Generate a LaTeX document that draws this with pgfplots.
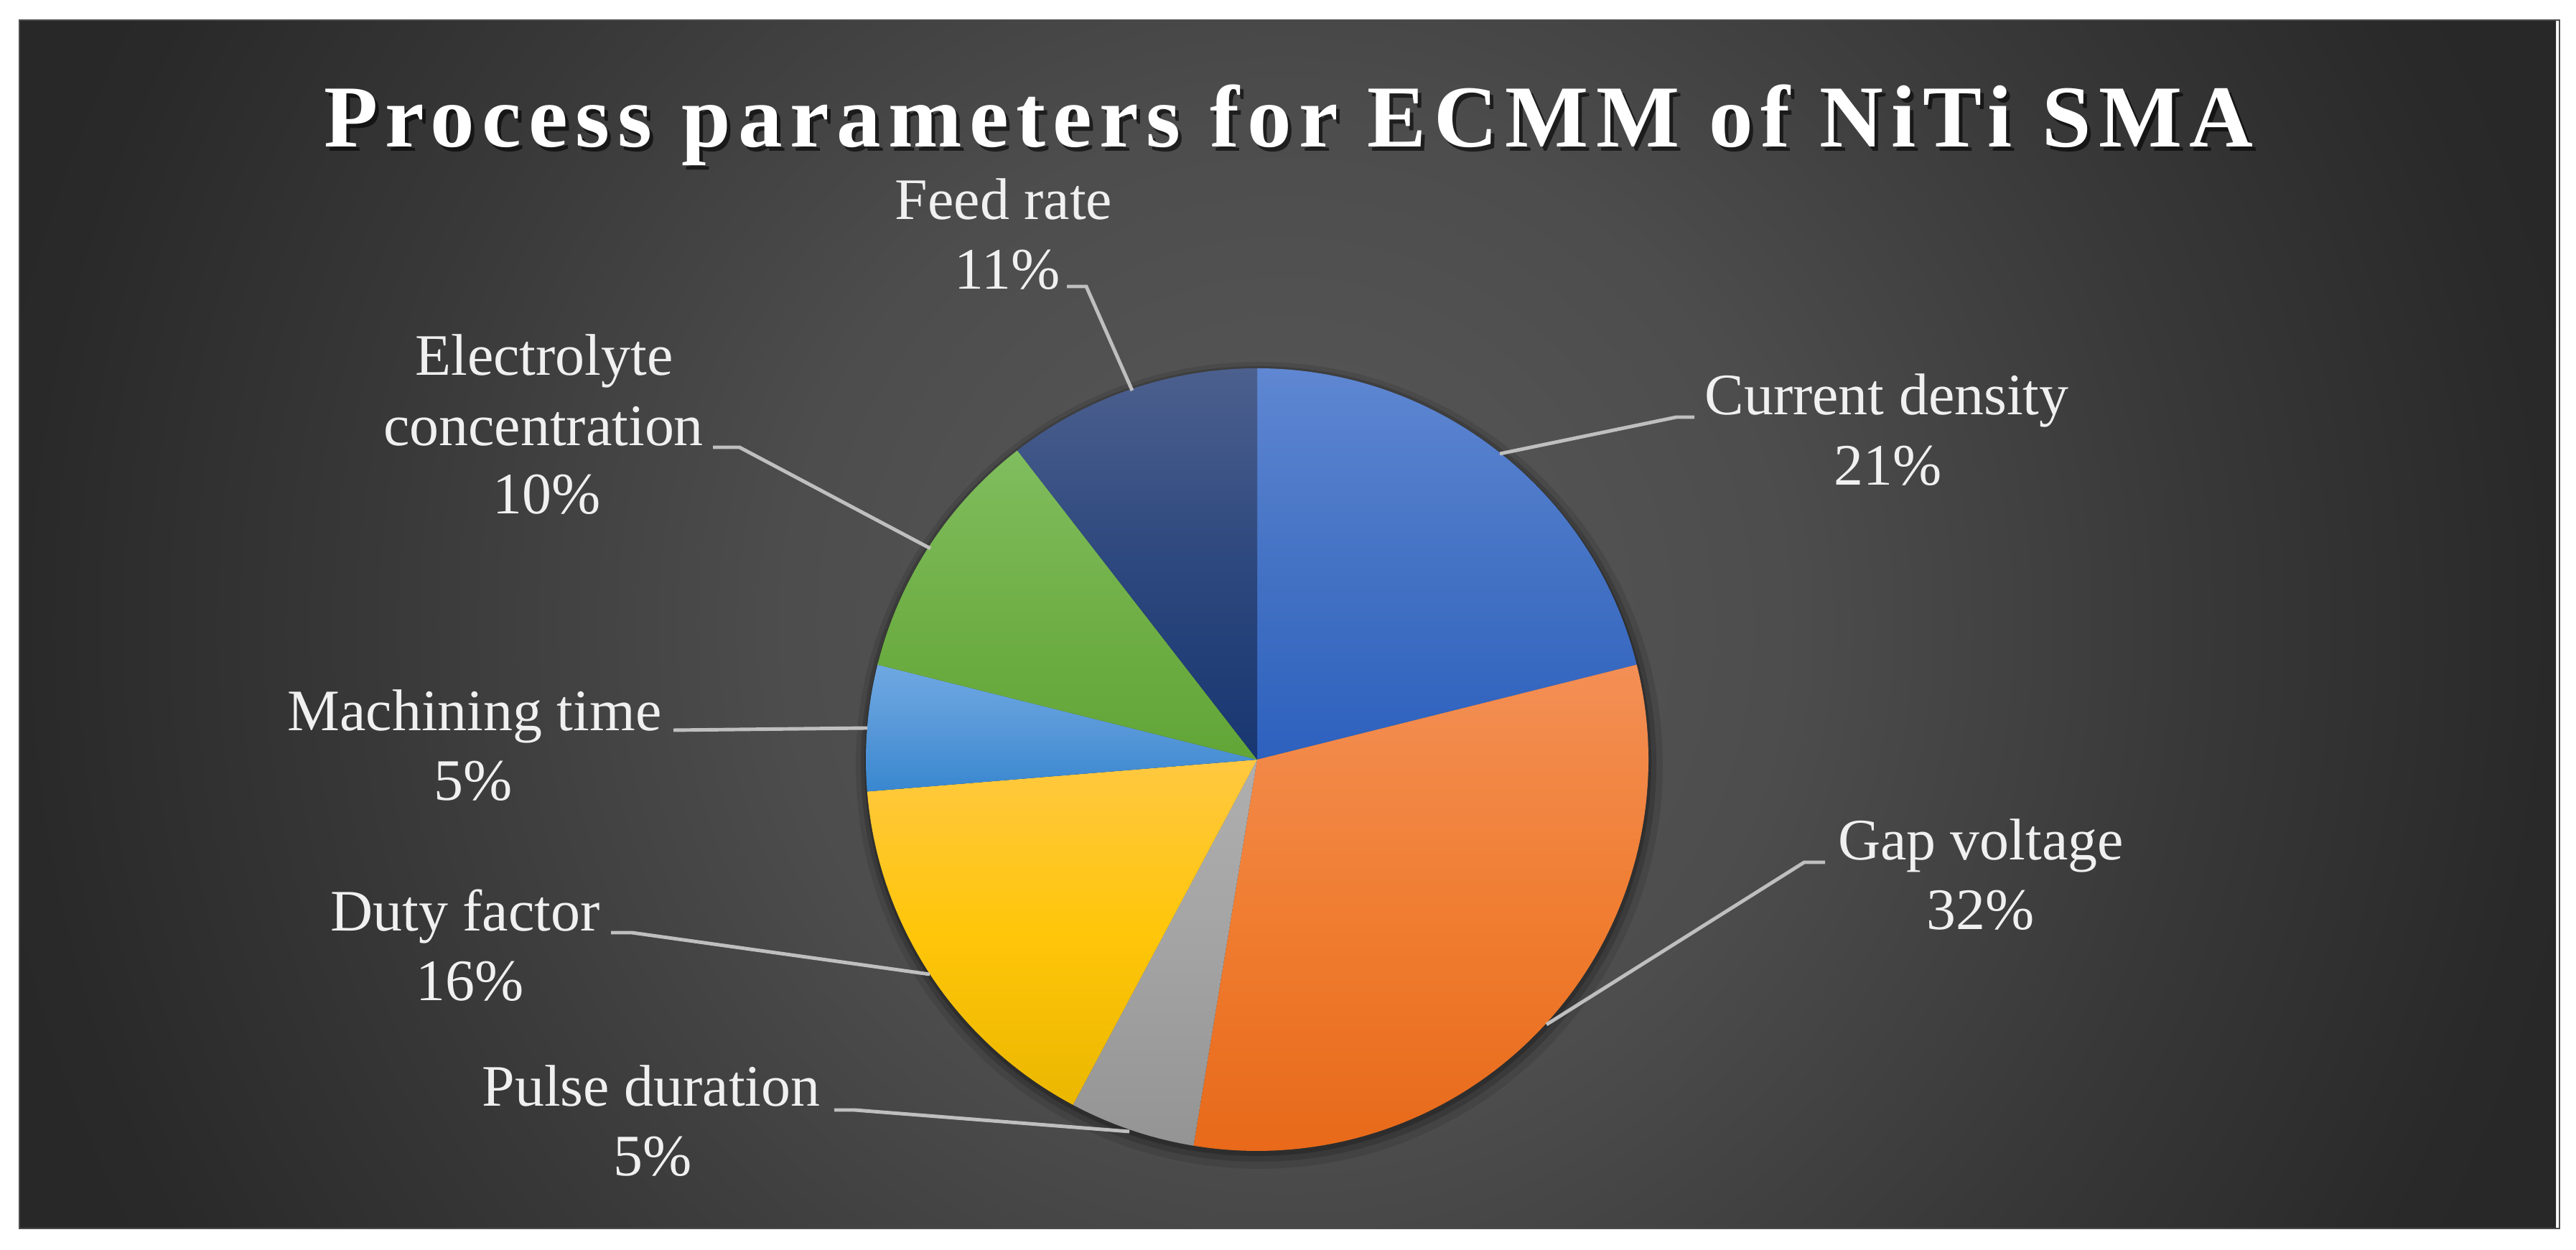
\documentclass[border=0pt]{standalone}
\usepackage{pgfplots}
\pgfplotsset{compat=1.18}
\usepackage{pgfplotstable}
\usepackage{fontspec}
\setmainfont{Liberation Serif}
\newfontfamily\titlefont[LetterSpace=8.5]{Liberation Serif}

% slice colours: top / middle / bottom of the vertical gradient
\definecolor{top0}{RGB}{95,135,210}  \definecolor{mid0}{RGB}{68,114,196}  \definecolor{bot0}{RGB}{45,97,190}
\definecolor{top1}{RGB}{243,143,85}  \definecolor{mid1}{RGB}{240,125,49}  \definecolor{bot1}{RGB}{231,104,24}
\definecolor{top2}{RGB}{175,175,175} \definecolor{mid2}{RGB}{163,163,163} \definecolor{bot2}{RGB}{148,148,148}
\definecolor{top3}{RGB}{255,200,65}  \definecolor{mid3}{RGB}{255,198,10}  \definecolor{bot3}{RGB}{235,183,0}
\definecolor{top4}{RGB}{110,168,226} \definecolor{mid4}{RGB}{88,152,216}  \definecolor{bot4}{RGB}{56,135,208}
\definecolor{top5}{RGB}{128,189,95}  \definecolor{mid5}{RGB}{112,176,71}  \definecolor{bot5}{RGB}{98,165,55}
\definecolor{top6}{RGB}{76,96,142}   \definecolor{mid6}{RGB}{45,72,126}   \definecolor{bot6}{RGB}{24,54,113}
\definecolor{leader}{RGB}{191,191,191}
\definecolor{lbl}{RGB}{240,240,240}

\pgfdeclareradialshading{bgglow}{\pgfpoint{0bp}{0bp}}{%
  rgb(0bp)=(0.35,0.35,0.35);
  rgb(10bp)=(0.30,0.30,0.30);
  rgb(18bp)=(0.22,0.22,0.22);
  rgb(25bp)=(0.16,0.16,0.16);
  rgb(30bp)=(0.15,0.15,0.15);
  rgb(50bp)=(0.15,0.15,0.15)}

% share of each parameter (%), clockwise from 12 o'clock:
% current density, gap voltage, pulse duration, duty factor,
% machining time, electrolyte concentration, feed rate
\pgfplotstableread{
id value
0 21.1
1 31.5
2 5.2
3 15.9
4 5.2
5 10.6
6 10.5
}\piedata

\begin{document}
\begin{tikzpicture}
\path[use as bounding box] (0,0) rectangle (35.88,17.41);
\fill[white] (0,0) rectangle (35.88,17.41);
\begin{scope}
  \clip (0.27,0.30) rectangle (35.65,17.13);
  \shade[shading=bgglow] (0.2,-9.0) rectangle (35.6,26.4);
\end{scope}
\draw[gray!60!black, line width=0.6pt] (0.27,0.30) rectangle (35.65,17.13);

% start / end angle of every slice
\def\cum{90}
\foreach \i in {0,...,6}{%
  \pgfplotstablegetelem{\i}{value}\of\piedata
  \pgfmathsetmacro\nxt{\cum-3.6*\pgfplotsretval}%
  \expandafter\xdef\csname sa\i\endcsname{\cum}%
  \expandafter\xdef\csname ea\i\endcsname{\nxt}%
  \xdef\cum{\nxt}%
}

\begin{axis}[
  at={(17.51cm,6.83cm)}, anchor=center,
  x=1cm, y=1cm, disabledatascaling,
  xmin=-6, xmax=6, ymin=-6, ymax=6,
  hide axis, clip=false]
  % soft shadow
  \fill[black, opacity=0.10] (axis cs:0.03,-0.08) circle[radius=5.62cm];
  \fill[black, opacity=0.15] (axis cs:0.02,-0.06) circle[radius=5.54cm];
  \fill[black, opacity=0.20] (axis cs:0.01,-0.04) circle[radius=5.48cm];
  \pgfplotsinvokeforeach{0,...,6}{
    \shade[top color=top#1, bottom color=bot#1, middle color=mid#1]
      (axis cs:0,0) -- ++(\csname sa#1\endcsname:5.45cm)
      arc[start angle=\csname sa#1\endcsname, end angle=\csname ea#1\endcsname, radius=5.45cm]
      -- cycle;
  }
\end{axis}

% leader lines
\begin{scope}[leader, line width=1.4pt]
  \draw (14.86,13.42) -- (15.13,13.42) -- (15.77,11.97);
  \draw (23.60,11.60) -- (23.35,11.60) -- (20.89,11.09);
  \draw (25.42,5.40) -- (25.13,5.40) -- (21.54,3.14);
  \draw (9.38,7.24) -- (12.08,7.27);
  \draw (8.51,4.42) -- (8.80,4.42) -- (12.95,3.84);
  \draw (11.62,1.95) -- (11.90,1.95) -- (15.73,1.65);
  \draw (9.93,11.18) -- (10.30,11.18) -- (12.96,9.77);
\end{scope}

% data labels
\begin{scope}[every node/.style={text=lbl, font=\fontsize{23.3}{28}\selectfont, inner sep=0pt, anchor=base}]
  \node at (13.98,14.35) {Feed rate};
  \node at (14.03,13.38) {11\%};
  \node at (26.28,11.63) {Current density};
  \node at (26.30,10.65) {21\%};
  \node at (27.59,5.43) {Gap voltage};
  \node at (27.59,4.46) {32\%};
  \node at (9.07,2.00) {Pulse duration};
  \node at (9.09,1.03) {5\%};
  \node at (6.48,4.44) {Duty factor};
  \node at (6.55,3.47) {16\%};
  \node at (6.61,7.23) {Machining time};
  \node at (6.59,6.26) {5\%};
  \node at (7.58,12.18) {Electrolyte};
  \node at (7.57,11.20) {concentration};
  \node at (7.62,10.25) {10\%};
\end{scope}

% title with shadow
\node[anchor=base, inner sep=0pt, text=black, opacity=0.6,
  font=\titlefont\bfseries\fontsize{35}{42}\selectfont] at (18.00,15.30)
  {Process parameters for ECMM of NiTi SMA};
\node[anchor=base, inner sep=0pt, text=white,
  font=\titlefont\bfseries\fontsize{35}{42}\selectfont] at (17.95,15.36)
  {Process parameters for ECMM of NiTi SMA};
\end{tikzpicture}
\end{document}
